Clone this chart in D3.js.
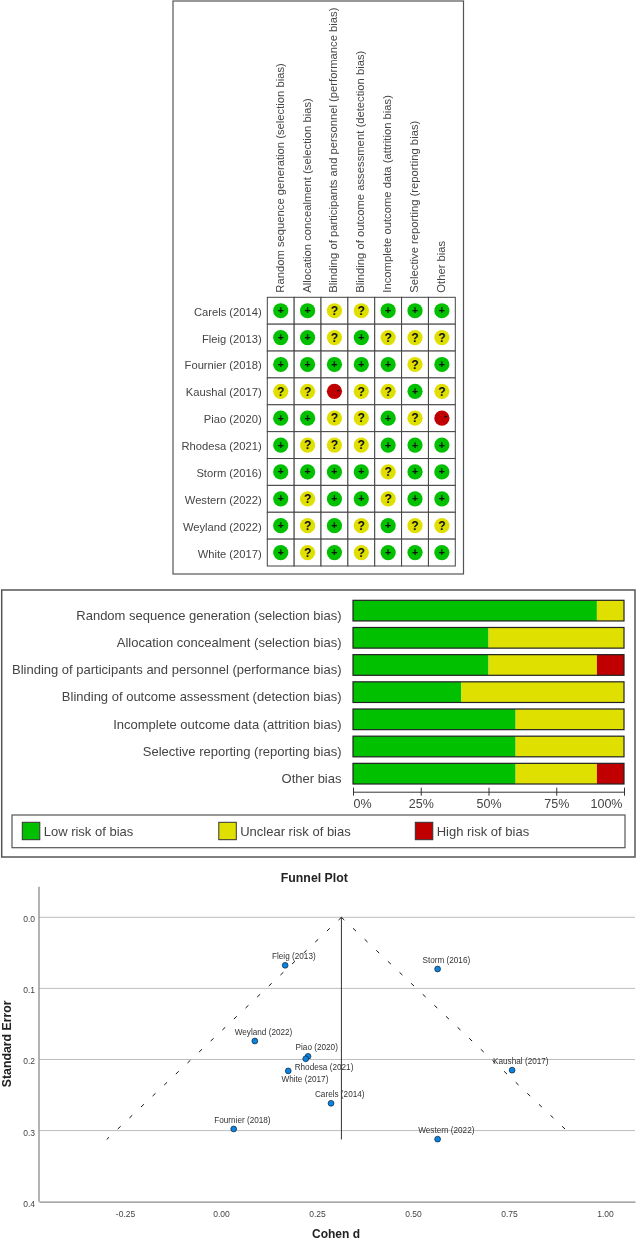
<!DOCTYPE html>
<html><head><meta charset="utf-8">
<script src="https://cdn.jsdelivr.net/npm/d3@7/dist/d3.min.js"></script>
<style>html,body{margin:0;padding:0;background:#fff}svg{display:block;filter:blur(.35px)}text{font-family:"Liberation Sans",Arial,sans-serif}</style>
</head><body><svg id="c" width="636" height="1240"></svg>
<script>
// ---- Risk of bias summary
const domains = ["Random sequence generation (selection bias)","Allocation concealment (selection bias)","Blinding of participants and personnel (performance bias)","Blinding of outcome assessment (detection bias)","Incomplete outcome data (attrition bias)","Selective reporting (reporting bias)","Other bias"];
const studies = ["Carels (2014)","Fleig  (2013)","Fournier (2018)","Kaushal (2017)","Piao (2020)","Rhodesa (2021)","Storm (2016)","Western (2022)","Weyland (2022)","White (2017)"];
const ratings = ["++??+++","++?+???","+++++?+","??-??+?","++??+?-","+???+++","++++?++","+?++?++","+?+?+??","+?+?+++"];
// ---- Risk of bias graph
const graphLabels = ["Random sequence generation (selection bias)","Allocation concealment (selection bias)","Blinding of participants and personnel (performance bias)","Blinding of outcome assessment (detection bias)","Incomplete outcome data (attrition bias)","Selective reporting (reporting bias)","Other bias"];
const lowPct = [90,50,50,40,60,60,60];
const unclearPct = [10,50,40,60,40,40,30];
const highPct = [0,0,10,0,0,0,10];
const pctTicks = [0,25,50,75,100];
const legendLabels = ["Low risk of bias","Unclear risk of bias","High risk of bias"];
// ---- Funnel plot
const funnelStudies = ["Carels (2014)","Fleig  (2013)","Fournier (2018)","Kaushal (2017)","Piao (2020)","Rhodesa (2021)","Storm (2016)","Western (2022)","Weyland (2022)","White (2017)"];
const cohenD = [0.2865,0.167,0.033,0.758,0.2266,0.2205,0.564,0.564,0.088,0.175];
const stdErr = [0.2616,0.0675,0.2977,0.215,0.1955,0.199,0.0727,0.312,0.174,0.216];
const xTicks = [-0.25,0,0.25,0.5,0.75,1];
const yTicks = [0,0.1,0.2,0.3,0.4];
const meanD = 0.3135, lineSE = 0.3125;
const funnelLeft = [[0.3135,0],[-0.2977,0.3125]];
const funnelRight = [[0.3135,0],[0.906,0.303]];

const svg = d3.select("#c");
const colors = {low:"#00c000",unclear:"#e0e000",high:"#c00000"};
const ratingColor = {"+":colors.low,"?":colors.unclear,"-":colors.high};
const textGrey = "#444";

// ===== Panel 1
svg.append("rect").attr("x",173).attr("y",1).attr("width",290.5).attr("height",573).attr("fill","none").attr("stroke","#555").attr("stroke-width",1.2);
const cx = d3.scaleBand().domain(domains).range([267.3,455.3]);
const cy = d3.scaleBand().domain(studies).range([297.3,566]);
const p1 = svg.append("g");
p1.selectAll("text.dom").data(domains).join("text").attr("class","dom")
  .attr("transform",d=>`translate(${cx(d)+cx.bandwidth()/2+3},292.7) rotate(-90)`)
  .attr("font-size",11.25).attr("fill",textGrey).text(d=>d);
p1.selectAll("text.study").data(studies).join("text").attr("class","study")
  .attr("x",261.7).attr("y",d=>cy(d)+cy.bandwidth()/2+5).attr("text-anchor","end")
  .attr("font-size",11.2).attr("fill",textGrey).text(d=>d);
const cells = studies.flatMap((s,i)=>domains.map((dm,j)=>({s,dm,r:ratings[i][j]})));
const cg = p1.selectAll("g.cell").data(cells).join("g").attr("class","cell")
  .attr("transform",d=>`translate(${cx(d.dm)},${cy(d.s)})`);
cg.append("rect").attr("width",cx.bandwidth()).attr("height",cy.bandwidth()).attr("fill","#fff").attr("stroke","#444").attr("stroke-width",1);
cg.append("circle").attr("cx",cx.bandwidth()/2).attr("cy",cy.bandwidth()/2).attr("r",7.6).attr("fill",d=>ratingColor[d.r]);
cg.append("text").attr("x",d=>cx.bandwidth()/2+(d.r==="-"?3.6:0)).attr("y",d=>cy.bandwidth()/2+(d.r==="?"?4.2:d.r==="-"?1.2:3.5))
  .attr("text-anchor","middle").attr("font-weight","bold").attr("font-size",d=>d.r==="?"?12:d.r==="-"?10:10.5).attr("fill","#111")
  .text(d=>d.r);

// ===== Panel 2
svg.append("rect").attr("x",1.7).attr("y",590).attr("width",633.3).attr("height",267).attr("fill","none").attr("stroke","#555").attr("stroke-width",1.5);
const bx = d3.scaleLinear().domain([0,100]).range([353,624]);
const by = d3.scaleBand().domain(graphLabels).range([600.3,784]).paddingInner(.24).paddingOuter(0);
const p2 = svg.append("g");
p2.selectAll("text.gl").data(graphLabels).join("text").attr("class","gl")
  .attr("x",341.5).attr("y",d=>by(d)+by.bandwidth()/2+9.3).attr("text-anchor","end")
  .attr("font-size",13).attr("fill",textGrey).text(d=>d);
graphLabels.forEach((l,i)=>{
  const g=p2.append("g");
  const segs=[[lowPct[i],colors.low],[unclearPct[i],colors.unclear],[highPct[i],colors.high]];
  let acc=0;
  segs.forEach(([v,c])=>{ if(v>0){ g.append("rect").attr("x",bx(acc)).attr("y",by(l)).attr("width",bx(acc+v)-bx(acc)).attr("height",by.bandwidth()).attr("fill",c); acc+=v; }});
  g.append("rect").attr("x",bx(0)).attr("y",by(l)).attr("width",bx(100)-bx(0)).attr("height",by.bandwidth()).attr("fill","none").attr("stroke","#222").attr("stroke-width",1.2);
});
const a2 = p2.append("g").attr("transform","translate(0,791.7)").call(d3.axisBottom(bx).tickValues(pctTicks).tickFormat(d=>d+"%").tickSizeOuter(0).tickSize(0));
a2.select(".domain").attr("stroke","#333");
a2.selectAll(".tick line").attr("y1",-4).attr("y2",4).attr("stroke","#333");
a2.selectAll(".tick text").attr("y",7.7).attr("font-size",12.5).attr("font-family","Liberation Sans").attr("fill",textGrey)
  .attr("text-anchor",d=>d===0?"start":d===100?"end":"middle").attr("dx",d=>d===100?-2:0);
// legend
svg.append("rect").attr("x",12).attr("y",815).attr("width",613).attr("height",32.7).attr("fill","none").attr("stroke","#555").attr("stroke-width",1.2);
const lx = d3.scalePoint().domain(legendLabels).range([22.3,415.3]);
const lg = svg.selectAll("g.leg").data(legendLabels).join("g").attr("class","leg").attr("transform",d=>`translate(${lx(d)},822.3)`);
lg.append("rect").attr("width",17.5).attr("height",17.4).attr("fill",(d,i)=>[colors.low,colors.unclear,colors.high][i]).attr("stroke","#333");
lg.append("text").attr("x",21.4).attr("y",14).attr("font-size",13).attr("fill",textGrey).text(d=>d);

// ===== Panel 3: funnel
const fx = d3.scaleLinear().domain([-0.474,1.078]).range([39,635]);
const fy = d3.scaleLinear().domain([0,0.4]).range([917.3,1201.7]);
const p3 = svg.append("g");
p3.selectAll("line.grid").data(yTicks.slice(0,4)).join("line").attr("class","grid")
  .attr("x1",39).attr("x2",635).attr("y1",d=>fy(d)).attr("y2",d=>fy(d)).attr("stroke","#bdbdbd").attr("stroke-width",1);
const ax = p3.append("g").attr("transform",`translate(0,${fy(0.4)})`).call(d3.axisBottom(fx).tickValues(xTicks).tickFormat(d=>d3.format(".2f")(d).replace("\u2212","-")).tickSize(0).tickSizeOuter(0));
ax.select(".domain").attr("stroke","#8c8c8c").attr("stroke-width",1.2);
ax.selectAll("text").attr("y",9).attr("font-size",8.5).attr("fill","#444").attr("font-family","Liberation Sans");
const ay = p3.append("g").attr("transform","translate(39,0)").call(d3.axisLeft(fy).tickValues(yTicks).tickFormat(d3.format(".1f")).tickSize(0).tickSizeOuter(0));
ay.select(".domain").attr("d",`M0,886.7V${fy(0.4)}`).attr("stroke","#9a9a9a").attr("stroke-width",1.5);
ay.selectAll("text").attr("x",-4).attr("dy","0.52em").attr("font-size",8.5).attr("fill","#444").attr("font-family","Liberation Sans");
const line = d3.line().x(d=>fx(d[0])).y(d=>fy(d[1]));
[funnelLeft,funnelRight].forEach(f=>p3.append("path").attr("d",line(f)).attr("fill","none").attr("stroke","#111").attr("stroke-width",1).attr("stroke-dasharray","4,12"));
p3.append("line").attr("x1",fx(meanD)).attr("x2",fx(meanD)).attr("y1",fy(0)).attr("y2",fy(lineSE)).attr("stroke","#333").attr("stroke-width",1);
const pts = funnelStudies.map((s,i)=>({s,d:cohenD[i],se:stdErr[i]}));
p3.selectAll("circle.pt").data(pts).join("circle").attr("class","pt").attr("cx",d=>fx(d.d)).attr("cy",d=>fy(d.se)).attr("r",2.9).attr("fill","#0a84e0").attr("stroke","#123").attr("stroke-width",.7);
// label placement: dx, dy from the point
const defaultOffset = [8.7,-6];
const labelOffset = {"Rhodesa (2021)":[18.3,11],"White (2017)":[16.7,11.3]};
p3.selectAll("text.pl").data(pts).join("text").attr("class","pl")
  .attr("x",d=>fx(d.d)+(labelOffset[d.s]||defaultOffset)[0]).attr("y",d=>fy(d.se)+(labelOffset[d.s]||defaultOffset)[1])
  .attr("text-anchor","middle").attr("font-size",8.2).attr("fill","#333").text(d=>d.s);
const bt=(x,y,t,fs,rot)=>svg.append("text").attr("transform",`translate(${x},${y})`+(rot?" rotate(-90)":"")).attr("text-anchor","middle").attr("font-weight","bold").attr("font-size",fs).attr("fill","#222").text(t);
bt(314.3,881.7,"Funnel Plot",12.3);
bt(336,1237.7,"Cohen d",12);
bt(10.7,1043.8,"Standard Error",12.3,true);
</script></body></html>
